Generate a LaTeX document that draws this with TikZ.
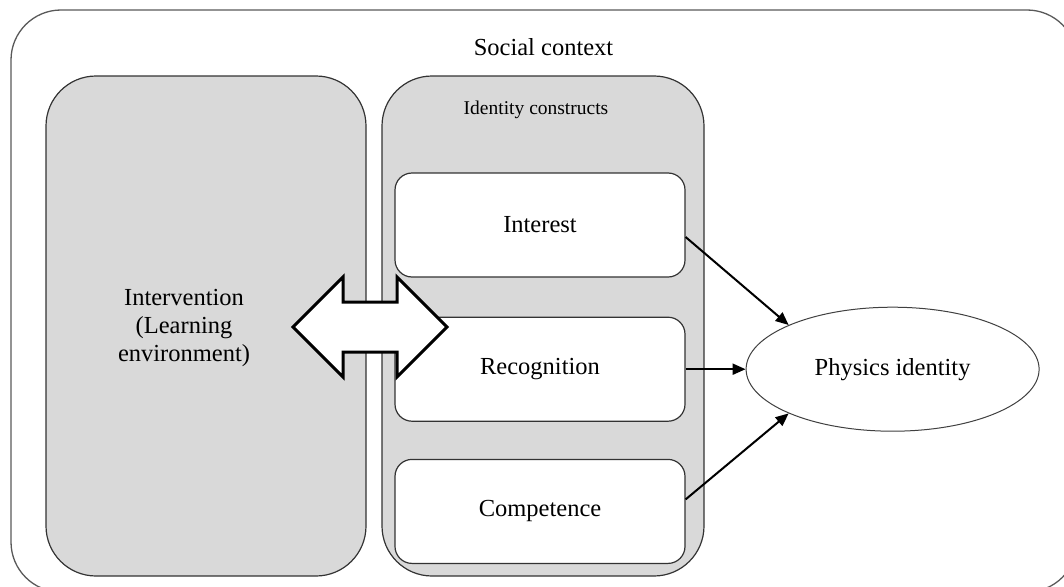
\documentclass[tikz,border=0pt]{standalone}
\usepackage{fontspec}
\setmainfont{Liberation Serif}
\usepackage{tikz}
\usetikzlibrary{arrows,arrows.meta,shapes,positioning,calc}
\definecolor{panelgrey}{HTML}{D9D9D9}
\definecolor{edgegrey}{HTML}{595959}
\newcommand{\lblfont}{\fontsize{24.5}{28}\selectfont}
\newcommand{\smallfont}{\fontsize{19.5}{22}\selectfont}
\tikzset{
  context/.style={draw=edgegrey, line width=1.3pt, rounded corners=50pt, inner sep=0pt},
  panel/.style={draw=black!80, fill=panelgrey, line width=1.2pt, rounded corners=50pt, inner sep=0pt},
  construct/.style={draw=black!80, fill=white, line width=1.2pt, rounded corners=17pt,
    minimum width=290pt, minimum height=104pt, inner sep=0pt, font=\lblfont},
  outcome/.style={ellipse, draw=black!75, fill=white, line width=1pt,
    minimum width=293pt, minimum height=124pt, inner sep=0pt, font=\lblfont},
  conn/.style={-{Triangle[length=13pt,width=11pt]}, line width=2pt},
  swaparrow/.style={draw=black, fill=white, line width=3pt, line join=miter}
}

\begin{document}
\begin{tikzpicture}[x=1pt,y=-1pt]
\useasboundingbox (0,0) rectangle (1064,586);
% nodes
\node[context, minimum width=1066pt, minimum height=582pt] (ctx) at (544,301) {};
 \node[font=\lblfont] (ctxlbl) at (543.5,47) {Social context};
 \node[panel, minimum width=320pt, minimum height=500pt] (interv) at (206,326) {};
 \node[panel, minimum width=322pt, minimum height=500pt] (ident) at (543,326) {};
 \node[font=\lblfont, align=center] (intervlbl) at (184,328) {Intervention\\(Learning\\environment)};
 \node[font=\smallfont] (identlbl) at (536,110) {Identity constructs};
 \node[construct] (interest) at (540,225) {Interest};
 \node[construct, below=39pt of interest] (recog) {Recognition};
 \node[construct, below=37pt of recog] (compet) {Competence};
 \node[outcome, right=60pt of recog] (phys) {Physics identity};

% double arrow
 \coordinate (swap) at (370,327);
 \draw[swaparrow] ($(swap)+(-77,0)$) -- ++(50,-50) -- ++(0,25) -- ++(54,0) -- ++(0,-25)
  -- ++(50,50) -- ++(-50,50) -- ++(0,-25) -- ++(-54,0) -- ++(0,25) -- cycle;

% edges
 \draw[conn] ([yshift=-12pt]interest.east) -- (phys.north west);
 \draw[conn] (recog.east) -- (phys.west);
 \draw[conn] ([yshift=12pt]compet.east) -- (phys.south west);
\end{tikzpicture}
\end{document}
